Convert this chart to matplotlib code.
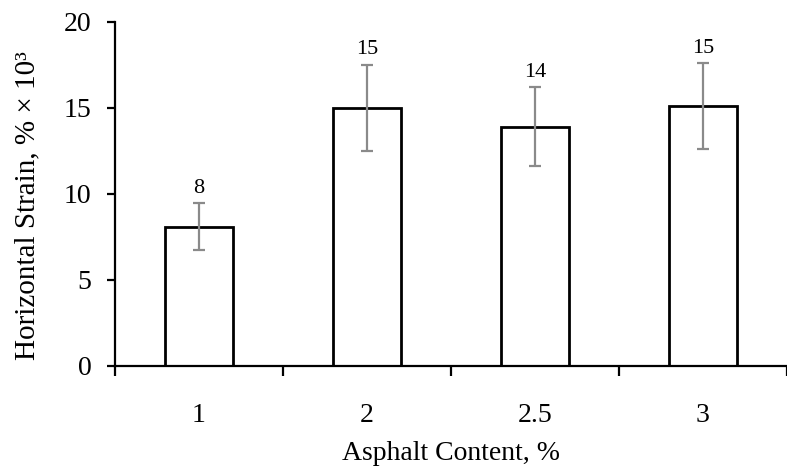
import numpy as np
import matplotlib
matplotlib.use('Agg')
import matplotlib.pyplot as plt

# Данные
categories = ['1', '2', '2.5', '3']
strain = [8.1, 15.0, 13.9, 15.1]
strain_err = [1.35, 2.5, 2.3, 2.5]

plt.rcParams['font.family'] = ['Liberation Serif', 'DejaVu Serif']

fig = plt.figure(figsize=(7.87, 4.67), dpi=100)
ax = fig.add_axes([0.146, 0.2163, 0.854, 0.737])

x = np.arange(len(categories))
ax.bar(x, strain, width=0.4, color='white', edgecolor='black', linewidth=2.0,
       yerr=strain_err, zorder=2,
       error_kw=dict(ecolor='#8a8a8a', elinewidth=1.6, capsize=4, capthick=1.6))

# подписи над планками погрешности
for xi, v, e in zip(x, strain, strain_err):
    ax.annotate(f'{v:.0f}', (xi, v + e), xytext=(0, 4), textcoords='offset points',
                ha='center', va='bottom', fontsize=16)

ax.set_xlim(-0.5, 3.45)
ax.set_ylim(0, 20)
ax.set_yticks([0, 5, 10, 15, 20])

# основные деления между категориями, подписи - на второстепенных
ax.set_xticks(np.arange(-0.5, 4, 1.0))
ax.set_xticklabels([])
ax.set_xticks(x, categories, minor=True)
ax.tick_params(axis='x', which='major', direction='out', length=7, width=1.6)
ax.tick_params(axis='x', which='minor', length=0, pad=27, labelsize=20)
ax.tick_params(axis='y', direction='out', length=6, width=1.6, pad=11, labelsize=20)

for s in ['top', 'right']:
    ax.spines[s].set_visible(False)
for s in ['left', 'bottom']:
    ax.spines[s].set_linewidth(1.6)

ax.set_xlabel('Asphalt Content, %', fontsize=20)
ax.xaxis.set_label_coords(0.5, -0.219)
ax.set_ylabel('Horizontal Strain, % × 10³', fontsize=21)
ax.yaxis.set_label_coords(-0.1116, 0.465)

fig.savefig('out.png', dpi=100)
